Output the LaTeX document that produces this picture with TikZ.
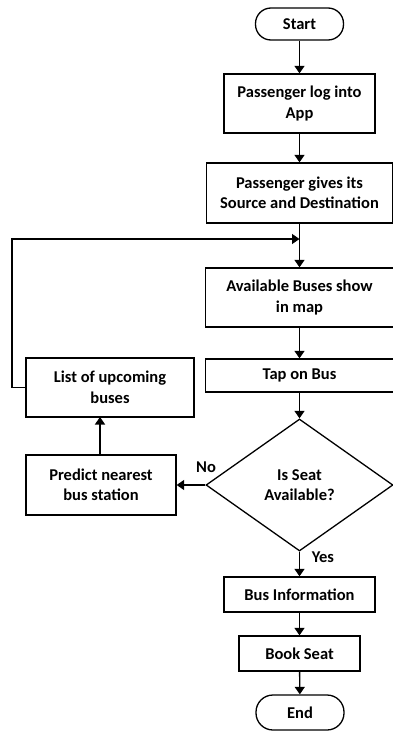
\documentclass[tikz,border=0pt]{standalone}
\usepackage{fontspec}
\setmainfont{Carlito}
\usetikzlibrary{shapes.geometric,arrows.meta}
\begin{document}
\begin{tikzpicture}[x=1pt,y=-1pt,
  every node/.style={font=\bfseries\fontsize{16.5}{20.5}\selectfont, align=center, inner sep=0pt},
  box/.style={draw, rectangle, line width=1.3pt},
  term/.style={draw, rectangle, rounded corners=15.5pt, line width=1.3pt, minimum width=88pt, minimum height=32pt},
  dec/.style={draw, diamond, line width=1.3pt, minimum width=187pt, minimum height=132pt},
  conn/.style={line width=1.4pt, -{Triangle[width=10pt,length=7.5pt]}},
  lbl/.style={font=\bfseries\fontsize{16.5}{18}\selectfont}
]
\useasboundingbox (0,0) rectangle (393,731);
\node[term] (start) at (299.5,24) {Start};
\node[box, minimum width=151pt, minimum height=59pt] (login) at (299.5,103.5) {Passenger log into\\App};
\node[box, minimum width=186pt, minimum height=60pt] (src) at (299.5,193) {Passenger gives its\\Source and Destination};
\node[box, minimum width=188pt, minimum height=59pt] (avail) at (299.5,297.5) {Available Buses show\\in map};
\node[box, minimum width=188pt, minimum height=33pt] (tap) at (299.5,375.5) {Tap on Bus};
\node[dec] (seat) at (299.5,485) {Is Seat\\Available?};
\node[box, minimum width=151pt, minimum height=35pt] (info) at (299.5,594.5) {Bus Information};
\node[box, minimum width=121pt, minimum height=35pt] (book) at (299.5,653.5) {Book Seat};
\node[term, minimum height=35pt, rounded corners=17pt] (end) at (300,712.5) {End};
\node[box, minimum width=150pt, minimum height=60pt] (predict) at (101,485) {Predict nearest\\bus station};
\node[box, minimum width=168pt, minimum height=59pt] (list) at (110,387.5) {List of upcoming\\buses};
\coordinate (join) at (299.5,239);
\coordinate (lb) at (12,387.5);
\coordinate (lt) at (12,239);
\coordinate (pn) at (100,455);
\coordinate (ls) at (100,417);
\draw[conn] (start) -- (login);
\draw[conn] (login) -- (src);
\draw[conn] (src) -- (avail);
\draw[conn] (avail) -- (tap);
\draw[conn] (tap) -- (seat.north);
\draw[conn] (seat.south) -- (info);
\draw[conn] (info) -- (book);
\draw[conn] (book) -- (end);
\draw[conn] (seat.west) -- (predict.east);
\draw[conn] (pn) -- (ls);
\draw[conn] (list.west) -- (lb) -- (lt) -- (join);
\node[lbl] (no) at (206,467) {No};
\node[lbl] (yes) at (323,557) {Yes};
\end{tikzpicture}
\end{document}
